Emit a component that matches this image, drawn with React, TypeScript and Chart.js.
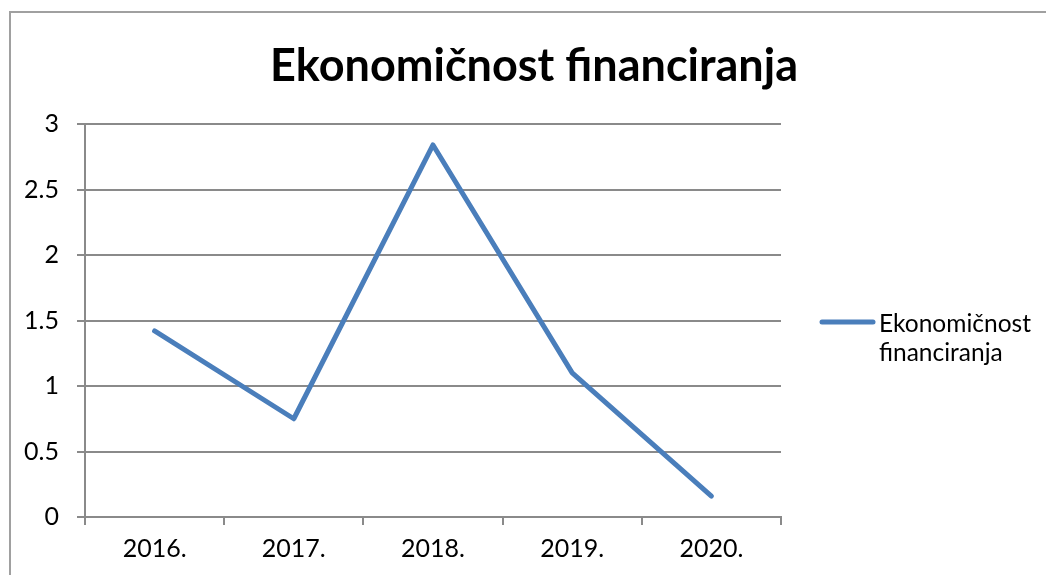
import React, { useEffect, useRef } from "react";
import { Chart, registerables } from "chart.js";

Chart.register(...registerables);

const categories = ["2016.", "2017.", "2018.", "2019.", "2020."];
const seriesName = "Ekonomičnost financiranja";
const seriesValues = [1.42, 0.75, 2.84, 1.1, 0.16];
const titleText = "Ekonomičnost financiranja";
const legendLines = ["Ekonomičnost", "financiranja"];

const FONT = "Lato, 'Open Sans', sans-serif";
const LINE_COLOR = "#4a7ebb";
const GRID_COLOR = "#8a8a8a";

const decorPlugin = {
  id: "decor",
  beforeDraw(chart: any) {
    const ctx = chart.ctx;
    ctx.save();
    ctx.strokeStyle = "#a0a0a0";
    ctx.lineWidth = 2;
    ctx.beginPath();
    ctx.moveTo(10, 600);
    ctx.lineTo(10, 12);
    ctx.lineTo(1100, 12);
    ctx.stroke();
    ctx.restore();
  },
  afterDraw(chart: any) {
    const ctx = chart.ctx;
    ctx.save();
    // title
    ctx.fillStyle = "#000";
    ctx.font = `bold 45px ${FONT}`;
    ctx.textAlign = "center";
    ctx.textBaseline = "alphabetic";
    ctx.fillText(titleText, 534, 81);
    // legend
    ctx.strokeStyle = LINE_COLOR;
    ctx.lineWidth = 5;
    ctx.lineCap = "round";
    ctx.beginPath();
    ctx.moveTo(822, 322);
    ctx.lineTo(873, 322);
    ctx.stroke();
    ctx.font = `24.5px ${FONT}`;
    ctx.textAlign = "left";
    ctx.fillText(legendLines[0], 879, 332);
    ctx.fillText(legendLines[1], 879, 361);
    ctx.restore();
  },
};

export default function App() {
  const ref = useRef<HTMLCanvasElement>(null);
  useEffect(() => {
    document.body.style.margin = "0";
    const chart = new Chart(ref.current!, {
      type: "line",
      data: {
        labels: categories,
        datasets: [
          {
            label: seriesName,
            data: seriesValues,
            borderColor: LINE_COLOR,
            backgroundColor: LINE_COLOR,
            borderWidth: 5,
            pointRadius: 0,
            tension: 0,
            borderCapStyle: "round",
            borderJoinStyle: "round",
          },
        ],
      },
      options: {
        animation: false,
        responsive: false,
        layout: { padding: { top: 124, right: 265, bottom: 0, left: 0 } },
        plugins: {
          legend: { display: false },
          title: { display: false },
          tooltip: { enabled: false },
        },
        scales: {
          x: {
            offset: true,
            grid: {
              offset: true,
              drawOnChartArea: false,
              drawTicks: true,
              tickLength: 8,
              color: GRID_COLOR,
              lineWidth: 2,
            },
            border: { color: GRID_COLOR, width: 2 },
            ticks: {
              color: "#000",
              font: { family: FONT, size: 25 },
              padding: 9,
              maxRotation: 0,
            },
            afterFit(scale: any) {
              scale.height = 58;
            },
          },
          y: {
            min: 0,
            max: 3,
            grid: {
              color: GRID_COLOR,
              lineWidth: 2,
              tickLength: 8,
            },
            border: { color: GRID_COLOR, width: 2 },
            ticks: {
              stepSize: 0.5,
              color: "#000",
              font: { family: FONT, size: 25 },
              padding: 18,
              callback: (v: any) => String(Number(v)),
            },
            afterFit(scale: any) {
              scale.width = 85;
            },
          },
        },
      },
      plugins: [decorPlugin],
    });
    return () => chart.destroy();
  }, []);
  return <canvas ref={ref} width={1046} height={575} style={{ display: "block" }} />;
}
